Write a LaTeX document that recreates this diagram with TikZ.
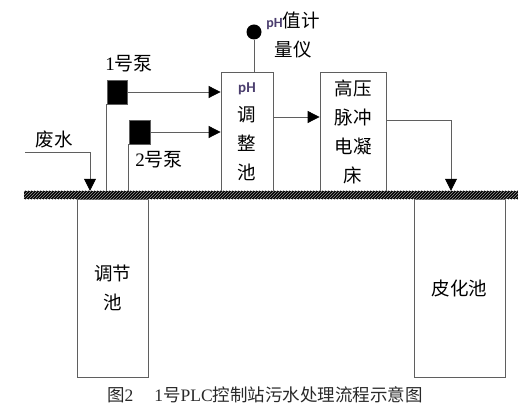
\documentclass[tikz,border=0pt]{standalone}
\usepackage{fontspec}
\setmainfont{Liberation Serif}
\newfontfamily\cjk{Noto Sans CJK SC}
\newfontfamily\phf{Carlito}
\usetikzlibrary{arrows.meta,patterns}
\definecolor{linecol}{RGB}{95,95,95}
\definecolor{phcol}{RGB}{75,62,110}
\definecolor{capcol}{RGB}{40,40,40}
\tikzset{
  box/.style={draw=linecol, line width=0.8pt, fill=white, inner sep=0pt},
  pumpbox/.style={draw=linecol, fill=black, inner sep=0pt, minimum width=20pt, minimum height=24pt},
  conn/.style={draw=linecol, line width=0.8pt},
  arr/.style={conn, -{Triangle[length=12pt,width=12pt,color=black]}},
  lbl/.style={font=\fontsize{18.5}{29}\selectfont\cjk, align=center, inner sep=0pt},
}
\begin{document}
\begin{tikzpicture}[x=1pt,y=-1pt]
\useasboundingbox (0,0) rectangle (528,411);
% tanks
\node[box, minimum width=71pt, minimum height=178pt] (tank1) at (112.5,288) {};
\node[box, minimum width=91pt, minimum height=178pt] (tank2) at (459.5,288) {};
\node[lbl] (t1txt) at (tank1.center) {调节\\池};
\node[lbl] (t2txt) at (tank2.center) {皮化池};
% upper boxes
\node[box, minimum width=52pt, minimum height=119pt] (phbox) at (247,131.5) {};
\node[box, minimum width=66pt, minimum height=119pt] (hvbox) at (353,131.5) {};
\node[lbl] (phtxt) at (phbox.center) {{\phf\bfseries\color{phcol}\fontsize{15}{29}\selectfont pH}\\调\\整\\池};
\node[lbl] (hvtxt) at (hvbox.center) {高压\\脉冲\\电凝\\床};
% ground bar
\node[fill=black, inner sep=0pt, minimum width=494pt, minimum height=8pt] (bar) at (271,195) {};
\fill[pattern=north east lines, pattern color=gray!80] (bar.south west) rectangle (bar.north east);
% pumps
\node[pumpbox] (pump1) at (117,92) {};
\node[pumpbox, minimum width=21pt] (pump2) at (139.5,132) {};
\node[lbl, font=\fontsize{19}{29}\selectfont] (p1lbl) at (129,64) {1{\cjk 号泵}};
\node[lbl, font=\fontsize{19}{29}\selectfont] (p2lbl) at (159,160) {2{\cjk 号泵}};
\draw[conn] (pump1.south west) -- (pump1.south west |- bar.north);
\draw[conn] (pump2.south west) -- (pump2.south west |- bar.north);
\draw[arr] (pump1.east) -- (pump1.east -| phbox.west);
\draw[arr] (pump2.east) -- (pump2.east -| phbox.west);
% waste water inlet
\coordinate (win) at (25,152);
\coordinate (wdrop) at (90,152);
\node[lbl] (wlbl) at (54,139) {废水};
\draw[arr] (win) -- (wdrop) -- (wdrop |- bar.north);
% pH sensor
\node[circle, fill=black, minimum size=15pt, inner sep=0pt] (sensor) at (254,32) {};
\draw[conn] (sensor.south) -- (sensor.south |- phbox.north);
\node[lbl] (slbl) at (293,35) {{\phf\bfseries\color{phcol}\fontsize{14}{29}\selectfont pH}值计\\量仪};
% pH -> HV
\draw[arr] ([yshift=14.5pt]phbox.east) -- ([yshift=14.5pt]phbox.east -| hvbox.west);
% HV -> tank2
\coordinate (hvdrop) at (451,120);
\draw[arr] ([yshift=11.5pt]hvbox.east) -- (hvdrop) -- (hvdrop |- bar.north);
% caption
\node[inner sep=0pt, text=capcol, font=\fontsize{17.5}{20}\selectfont] (cap) at (265,395) {{\cjk 图}2\hspace{1.2em}1{\cjk 号}PLC{\cjk 控制站污水处理流程示意图}};
\end{tikzpicture}
\end{document}
